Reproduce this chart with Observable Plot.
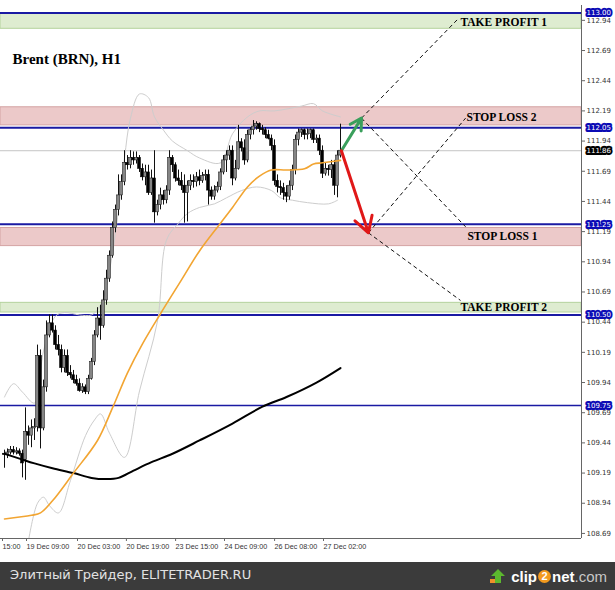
<!DOCTYPE html>
<html><head><meta charset="utf-8">
<script src="https://cdn.jsdelivr.net/npm/d3@7"></script>
<script src="https://cdn.jsdelivr.net/npm/@observablehq/plot@0.6"></script>
<style>
html,body{margin:0;padding:0;background:#fff;overflow:hidden;width:615px;height:590px}
#chart svg{display:block}
#footer{height:28px;background:#3b3b3b;display:flex;align-items:center;justify-content:space-between;padding:0 8px 0 10px;box-sizing:border-box}
#footer .l{font-family:"DejaVu Sans",sans-serif;font-size:13px;color:#e2e2e2;margin-top:-3px}
#footer .r{font-family:"Liberation Sans",Arial,sans-serif;font-size:15px;font-weight:bold;color:#fff;display:flex;align-items:center}
#footer .two{display:inline-block;width:13px;height:13px;border-radius:50%;background:#f39a1e;color:#fff;font-size:11px;text-align:center;line-height:13px;margin:0 1px}
#footer .com{font-weight:normal;color:#c8c8c8}
</style></head>
<body>
<div id="chart"></div>
<div id="footer"><span class="l">Элитный Трейдер, ELITETRADER.RU</span><span class="r"><svg width="18" height="16" style="margin-right:4px"><rect x="1" y="11" width="9" height="4" fill="#f0902a"/><polygon points="9,1 16,8 12,8 12,15 6,15 6,8 2,8" fill="#5cb82e"/></svg>clip<span class="two">2</span>net<span class="com">.com</span></span></div>
<script>
// ---- candle data (H1 bars, index = bar number) ----
const open = [109.35,109.34,109.36,109.38,109.36,109.37,109.35,109.30,109.53,109.50,
109.56,109.57,110.16,109.56,109.90,110.33,110.43,110.37,110.25,110.21,
110.06,110.16,110.02,110.00,109.96,109.93,109.87,109.90,109.86,109.97,
110.11,110.33,110.47,110.41,110.62,110.80,110.99,111.22,111.37,111.49,
111.60,111.76,111.74,111.80,111.78,111.80,111.71,111.64,111.68,111.51,
111.63,111.35,111.41,111.49,111.45,111.53,111.80,111.74,111.63,111.61,
111.57,111.51,111.57,111.61,111.60,111.64,111.61,111.65,111.66,111.53,
111.48,111.53,111.56,111.68,111.78,111.82,111.86,111.63,111.71,111.93,
111.88,111.78,111.99,112.03,112.06,112.08,112.04,112.03,111.99,111.96,
111.90,111.61,111.56,111.55,111.51,111.48,111.57,111.70,111.95,112.01,
112.03,111.99,112.00,112.03,111.95,111.96,111.86,111.67,111.71,111.70,
111.74,111.57,111.82];
const high = [109.38,109.39,109.41,109.41,109.40,109.39,109.38,109.73,109.58,109.63,
109.64,110.25,110.21,109.96,110.45,110.50,110.50,110.41,110.33,110.25,
110.21,110.21,110.08,110.04,110.00,109.97,109.93,109.92,110.00,110.14,
110.37,110.56,110.58,110.70,110.87,111.03,111.27,111.41,111.66,111.66,
111.86,111.82,111.86,111.85,111.85,111.82,111.75,111.74,111.74,111.70,
111.86,111.45,111.55,111.53,111.57,111.86,111.82,111.76,111.70,111.68,
111.66,111.61,111.66,111.66,111.68,111.70,111.68,111.70,111.70,111.56,
111.57,111.60,111.71,111.82,111.86,111.90,111.90,111.78,112.07,111.96,
111.95,112.03,112.05,112.11,112.10,112.09,112.07,112.05,112.03,111.99,
111.95,111.66,111.61,111.59,111.57,111.61,111.74,111.99,112.04,112.04,
112.04,112.04,112.04,112.04,111.99,111.99,111.90,111.76,111.74,111.78,
111.78,111.86,112.08];
const low = [109.23,109.31,109.34,109.34,109.34,109.33,109.15,109.13,109.42,109.40,
109.46,109.53,109.39,109.54,109.86,110.31,110.35,110.21,110.16,110.02,
110.02,109.99,109.97,109.93,109.91,109.86,109.85,109.84,109.84,109.96,
110.08,110.31,110.29,110.39,110.58,110.77,110.97,111.18,111.32,111.45,
111.57,111.70,111.71,111.74,111.75,111.68,111.61,111.57,111.49,111.49,
111.26,111.32,111.37,111.41,111.42,111.49,111.68,111.60,111.57,111.53,
111.26,111.27,111.53,111.55,111.56,111.57,111.59,111.61,111.41,111.45,
111.45,111.51,111.53,111.66,111.68,111.78,111.57,111.61,111.70,111.85,
111.74,111.76,111.95,111.99,112.03,112.01,111.99,111.96,111.95,111.86,
111.57,111.51,111.49,111.45,111.43,111.45,111.53,111.66,111.90,111.97,
111.95,111.95,111.96,111.92,111.92,111.82,111.63,111.65,111.65,111.63,
111.49,111.47,111.80];
const close = [109.34,109.36,109.38,109.36,109.37,109.35,109.27,109.53,109.50,109.56,
109.57,110.16,109.56,109.90,110.33,110.43,110.37,110.25,110.21,110.06,
110.16,110.02,110.00,109.96,109.93,109.87,109.90,109.86,109.97,110.11,
110.33,110.47,110.41,110.62,110.80,110.99,111.22,111.37,111.49,111.60,
111.76,111.74,111.80,111.78,111.80,111.71,111.64,111.68,111.51,111.63,
111.35,111.41,111.49,111.45,111.53,111.80,111.74,111.63,111.61,111.57,
111.51,111.57,111.61,111.60,111.64,111.61,111.65,111.66,111.53,111.48,
111.53,111.56,111.68,111.78,111.82,111.86,111.63,111.71,111.93,111.88,
111.78,111.99,112.03,112.06,112.08,112.04,112.03,111.99,111.96,111.90,
111.61,111.56,111.55,111.51,111.48,111.57,111.70,111.95,112.01,112.03,
111.99,112.00,112.03,111.95,111.96,111.86,111.67,111.71,111.70,111.74,
111.57,111.82,111.86];

// ---- indicators (readings at bar index) ----
const maFastIdx = [0,9,12,16,23,31,36,41,46,52,59,65,72,76,81,85,89,94,100,103,106,112];
const maFastVal = [108.81,108.84,108.86,108.96,109.19,109.46,109.73,110.02,110.26,110.51,110.79,111.03,111.26,111.39,111.56,111.65,111.70,111.70,111.71,111.75,111.76,111.78];
const maSlowIdx = [0,5,10,16,23,29,34,38,43,49,56,65,76,86,94,104,112];
const maSlowVal = [109.35,109.31,109.27,109.23,109.19,109.15,109.14,109.15,109.21,109.28,109.35,109.46,109.60,109.74,109.82,109.94,110.06];
const bbUpIdx = [0,3,6,10,13,17,20,25,29,32,35,38,40,42,45,48,50,53,56,61,65,72,76,81,85,90,99,103,106,112];
const bbUpVal = [109.82,109.93,109.86,109.77,110.20,110.49,110.52,110.50,110.50,110.58,110.87,111.37,111.80,112.13,112.33,112.30,112.14,112.03,111.94,111.86,111.80,111.76,112.00,112.14,112.19,112.19,112.23,112.25,112.19,112.14];
const bbLoIdx = [8,11,13,15,18,22,27,30,32,35,40,45,51,54,58,61,65,70,74,79,84,89,92,96,101,108,111];
const bbLoVal = [108.63,108.94,108.99,108.92,108.86,109.13,109.50,109.63,109.68,109.52,109.32,109.87,110.45,111.12,111.26,111.34,111.39,111.42,111.47,111.53,111.56,111.53,111.47,111.45,111.43,111.42,111.45];

// ---- levels & zones ----
const levels = [113.00, 112.05, 111.25, 110.50, 109.75];
const levelWidth = [2, 2, 2, 2, 1.4];
const lastPrice = 111.86;
const pinkLo = [112.07, 111.07], pinkHi = [112.22, 111.22];
const greenLo = [112.87, 110.52], greenHi = [113.00, 110.60];
const noteText = ["TAKE PROFIT 1", "STOP LOSS 2", "STOP LOSS 1", "TAKE PROFIT 2"];
const noteIdx = [152, 154, 154.3, 152];
const notePrice = [112.92, 112.14, 111.15, 110.56];

// ---- scenario arrows ----
const arrowFrom = {i: 112.3, p: 111.86};
const arrowToIdx = [119, 121.3], arrowToPrice = [112.13, 111.18];
const arrowColor = ["#3a9f5c", "#e01818"];
const dashFromIdx = [119, 119, 121.3, 121.3];
const dashFromPrice = [112.13, 112.13, 111.18, 111.18];
const dashToIdx = [151.3, 153.7, 153.7, 152];
const dashToPrice = [112.955, 111.23, 112.13, 110.62];

// ---- axes ----
const yTicks = [112.94,112.69,112.44,112.19,111.94,111.69,111.44,111.19,110.94,110.69,110.44,110.19,109.94,109.69,109.44,109.19,108.94,108.69];
const xTickIdx = [-1, 7, 24, 40.3, 56.7, 73, 89.7, 106];
const xTickLabels = ["15:00","19 Dec 09:00","20 Dec 03:00","20 Dec 19:00","23 Dec 15:00","24 Dec 09:00","26 Dec 08:00","27 Dec 02:00"];

const xDomain = [-4/3, 577/3];
const yDomain = [108.648, 113.063];

const candles = open.map((o, i) => ({i, o, h: high[i], l: low[i], c: close[i]}));
const pts = (idx, val) => idx.map((i, k) => ({i, v: val[k]}));
const pink = pinkLo.map((lo, k) => ({lo, hi: pinkHi[k]}));
const green = greenLo.map((lo, k) => ({lo, hi: greenHi[k]}));
const notes = noteText.map((t, k) => ({t, i: noteIdx[k], p: notePrice[k]}));
const arrows = arrowToIdx.map((i, k) => ({x1: arrowFrom.i, y1: arrowFrom.p, x2: i, y2: arrowToPrice[k], col: arrowColor[k]}));
const dashes = dashFromIdx.map((i, k) => ({x1: i, y1: dashFromPrice[k], x2: dashToIdx[k], y2: dashToPrice[k]}));
const lvl = levels.map((v, k) => ({v, w: levelWidth[k]}));
const xLabel = new Map(xTickIdx.map((d, k) => [d, xTickLabels[k]]));
const boxes = levels.map(v => ({v, col: "#0b0bb5"})).concat([{v: lastPrice, col: "#000"}]);

const chart = Plot.plot({
  width: 615, height: 562,
  marginLeft: 0, marginRight: 34, marginTop: 5, marginBottom: 24,
  style: {background: "#fff", overflow: "visible"},
  x: {type: "linear", domain: xDomain, axis: null},
  y: {domain: yDomain, axis: null},
  marks: [
    Plot.rect(pink, {y1: "lo", y2: "hi", fill: "#ecc9c9", stroke: "#d4a3a3", strokeWidth: 1}),
    Plot.rect(green, {y1: "lo", y2: "hi", fill: "#deecd0", stroke: "#b4d29c", strokeWidth: 1}),
    Plot.ruleY([lastPrice], {stroke: "#c4c4c4", strokeWidth: 1}),
    Plot.ruleY(lvl, {y: "v", stroke: "#1a1aa3", strokeWidth: "w"}),
    Plot.line(pts(bbUpIdx, bbUpVal), {x: "i", y: "v", stroke: "#cdcdcd", strokeWidth: 1, curve: "catmull-rom"}),
    Plot.line(pts(bbLoIdx, bbLoVal), {x: "i", y: "v", stroke: "#cdcdcd", strokeWidth: 1, curve: "catmull-rom", clip: true}),
    Plot.ruleX(candles, {x: "i", y1: "l", y2: "h", stroke: "#111", strokeWidth: 1}),
    Plot.rect(candles, {x1: d => d.i - 0.45, x2: d => d.i + 0.45, y1: "o", y2: "c",
      fill: d => d.c >= d.o ? "#858585" : "#000", stroke: d => d.c >= d.o ? "#222" : "#000", strokeWidth: 0.6}),
    Plot.line(pts(maSlowIdx, maSlowVal), {x: "i", y: "v", stroke: "#000", strokeWidth: 2, curve: "catmull-rom"}),
    Plot.line(pts(maFastIdx, maFastVal), {x: "i", y: "v", stroke: "#f2a532", strokeWidth: 1.6, curve: "catmull-rom"}),
    Plot.link(dashes, {x1: "x1", y1: "y1", x2: "x2", y2: "y2", stroke: "#111", strokeWidth: 1, strokeDasharray: "4,3"}),
    Plot.arrow(arrows, {x1: "x1", y1: "y1", x2: "x2", y2: "y2", stroke: "col", strokeWidth: 3, headLength: 9}),
    Plot.text(notes, {x: "i", y: "p", text: "t", textAnchor: "start", fontFamily: "Liberation Serif", fontWeight: "bold", fontSize: 11.5, fill: "#000"}),
    Plot.text(["Brent (BRN), H1"], {frameAnchor: "top-left", dx: 12, dy: 48, text: d => d, textAnchor: "start", fontFamily: "Liberation Serif", fontWeight: "bold", fontSize: 15, fill: "#000"}),
    // axes
    Plot.ruleY([yDomain[0]], {stroke: "#666", strokeWidth: 1}),
    Plot.ruleX([xDomain[1]], {stroke: "#666", strokeWidth: 1}),
    Plot.axisY(yTicks, {anchor: "right", tickSize: 3, tickPadding: 2, tickFormat: d3.format(".2f"), fontSize: 7, fontFamily: "DejaVu Sans", fill: "#333", stroke: "#666", label: null}),
    Plot.axisX(xTickIdx, {anchor: "bottom", tickSize: 3, tickPadding: 2, tickFormat: d => xLabel.get(d), textAnchor: "start", dx: 1, fontSize: 7.2, fontFamily: "Liberation Sans", fill: "#333", stroke: "#666", label: null}),
    Plot.text(boxes, {y: "v", text: d => d.v.toFixed(2), frameAnchor: "right", dx: 5, textAnchor: "start", fill: "#fff",
      stroke: "col", strokeWidth: 4, strokeLinejoin: "round", paintOrder: "stroke", fontSize: 7, fontFamily: "DejaVu Sans"})
  ]
});
document.getElementById("chart").appendChild(chart);
</script>
</body></html>
